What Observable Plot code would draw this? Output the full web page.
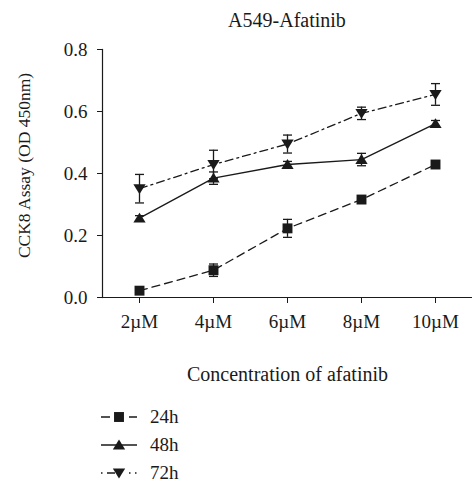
<!DOCTYPE html>
<html><head><meta charset="utf-8">
<script src="https://cdn.jsdelivr.net/npm/d3@7"></script>
<script src="https://cdn.jsdelivr.net/npm/@observablehq/plot@0.6"></script>
<style>
body{margin:0;background:#fff;font-family:"Liberation Serif",serif;color:#1a1a1a;}
#title{height:40px;line-height:40px;padding-left:102px;width:370px;text-align:center;font-size:20px;}
#legend{margin-top:11px;}
.row{height:28px;display:flex;align-items:center;font-size:19px;}
.row svg{display:block;}
.row span{margin-left:13px;}
</style></head><body>
<div id="title">A549-Afatinib</div>
<div id="chart"></div>
<div id="legend"></div>
<script>
const concentrations = ["2µM", "4µM", "6µM", "8µM", "10µM"];
const seriesNames = ["24h", "48h", "72h"];
const values24 = [0.022, 0.088, 0.223, 0.316, 0.429];
const errors24 = [0.008, 0.02, 0.029, 0.01, 0.008];
const values48 = [0.256, 0.385, 0.429, 0.445, 0.561];
const errors48 = [0.008, 0.02, 0.01, 0.02, 0.01];
const values72 = [0.351, 0.429, 0.495, 0.594, 0.655];
const errors72 = [0.046, 0.046, 0.029, 0.02, 0.035];
const yTicks = [0, 0.2, 0.4, 0.6, 0.8];

const allValues = [values24, values48, values72];
const allErrors = [errors24, errors48, errors72];
const dashes = ["8,5", null, "8,4,2,4"];
const legendDashes = ["9,19", null, "1.5,4.5,8,14,1.5,4.5,1.5,10"];

const sqSym = {draw(c, size){const s = Math.sqrt(size); c.rect(-s/2, -s/2, s, s);}};
const upSym = {draw(c, size){const s = Math.sqrt(size); const w = s*0.62; c.moveTo(0, -s*0.55); c.lineTo(w, s*0.45); c.lineTo(-w, s*0.45); c.closePath();}};
const downSym = {draw(c, size){const s = Math.sqrt(size); const w = s*0.62; c.moveTo(0, s*0.55); c.lineTo(w, -s*0.45); c.lineTo(-w, -s*0.45); c.closePath();}};
const capSym = {draw(c, size){const s = Math.sqrt(size); c.moveTo(-s/2, 0); c.lineTo(s/2, 0);}};
const symbols = [sqSym, upSym, downSym];

const rows = [];
seriesNames.forEach((s, k) => concentrations.forEach((c, i) => rows.push({series: s, k, conc: c, value: allValues[k][i], err: allErrors[k][i]})));

const ink = "#1a1a1a";
const marks = [];
marks.push(Plot.frame({anchor: "left", stroke: ink, strokeWidth: 1.2}));
marks.push(Plot.frame({anchor: "bottom", stroke: ink, strokeWidth: 1.2}));
marks.push(Plot.axisY({ticks: yTicks, tickFormat: d => d.toFixed(1), tickSize: 5, tickPadding: 10, label: null, fontSize: 19, stroke: ink, color: ink}));
marks.push(Plot.axisX({tickSize: 6, tickPadding: 11, label: null, fontSize: 19, stroke: ink, color: ink}));
marks.push(Plot.text(["CCK8 Assay (OD 450nm)"], {frameAnchor: "left", textAnchor: "middle", rotate: -90, dx: -78, dy: -8, fontSize: 17.5, fill: ink}));
marks.push(Plot.text(["Concentration of afatinib"], {frameAnchor: "bottom", textAnchor: "middle", dy: 83, fontSize: 20, fill: ink}));
seriesNames.forEach((s, k) => {
  const d = rows.filter(r => r.k === k);
  marks.push(Plot.line(d, {x: "conc", y: "value", stroke: ink, strokeWidth: 1.3, strokeDasharray: dashes[k]}));
  marks.push(Plot.ruleX(d, {x: "conc", y1: r => r.value - r.err, y2: r => r.value + r.err, stroke: ink, strokeWidth: 1.3}));
  marks.push(Plot.dot(d, {x: "conc", y: r => r.value + r.err, symbol: capSym, r: 5.1, stroke: ink, strokeWidth: 1.3}));
  marks.push(Plot.dot(d, {x: "conc", y: r => r.value - r.err, symbol: capSym, r: 5.1, stroke: ink, strokeWidth: 1.3}));
  marks.push(Plot.dot(d, {x: "conc", y: "value", symbol: symbols[k], r: 5.6, fill: ink, stroke: "none"}));
});

const chart = Plot.plot({
  width: 472, height: 352,
  marginTop: 9, marginBottom: 95, marginLeft: 102, marginRight: 0,
  style: {fontFamily: '"Liberation Serif", serif', fontSize: "19px", color: ink, background: "#fff"},
  x: {type: "point", domain: concentrations, padding: 0.5},
  y: {domain: [0, 0.8]},
  marks
});
document.getElementById("chart").appendChild(chart);

const legend = d3.select("#legend");
seriesNames.forEach((s, k) => {
  const row = legend.append("div").attr("class", "row");
  const svg = row.append("svg").attr("width", 137).attr("height", 20);
  svg.append("line").attr("x1", 101).attr("x2", 137).attr("y1", 10).attr("y2", 10)
    .attr("stroke", ink).attr("stroke-width", 1.3).attr("stroke-dasharray", legendDashes[k]);
  svg.append("path").attr("transform", "translate(119,10)")
    .attr("d", d3.symbol(symbols[k], 5.6 * 5.6 * Math.PI)()).attr("fill", ink);
  row.append("span").text(s);
});
</script>
</body></html>
